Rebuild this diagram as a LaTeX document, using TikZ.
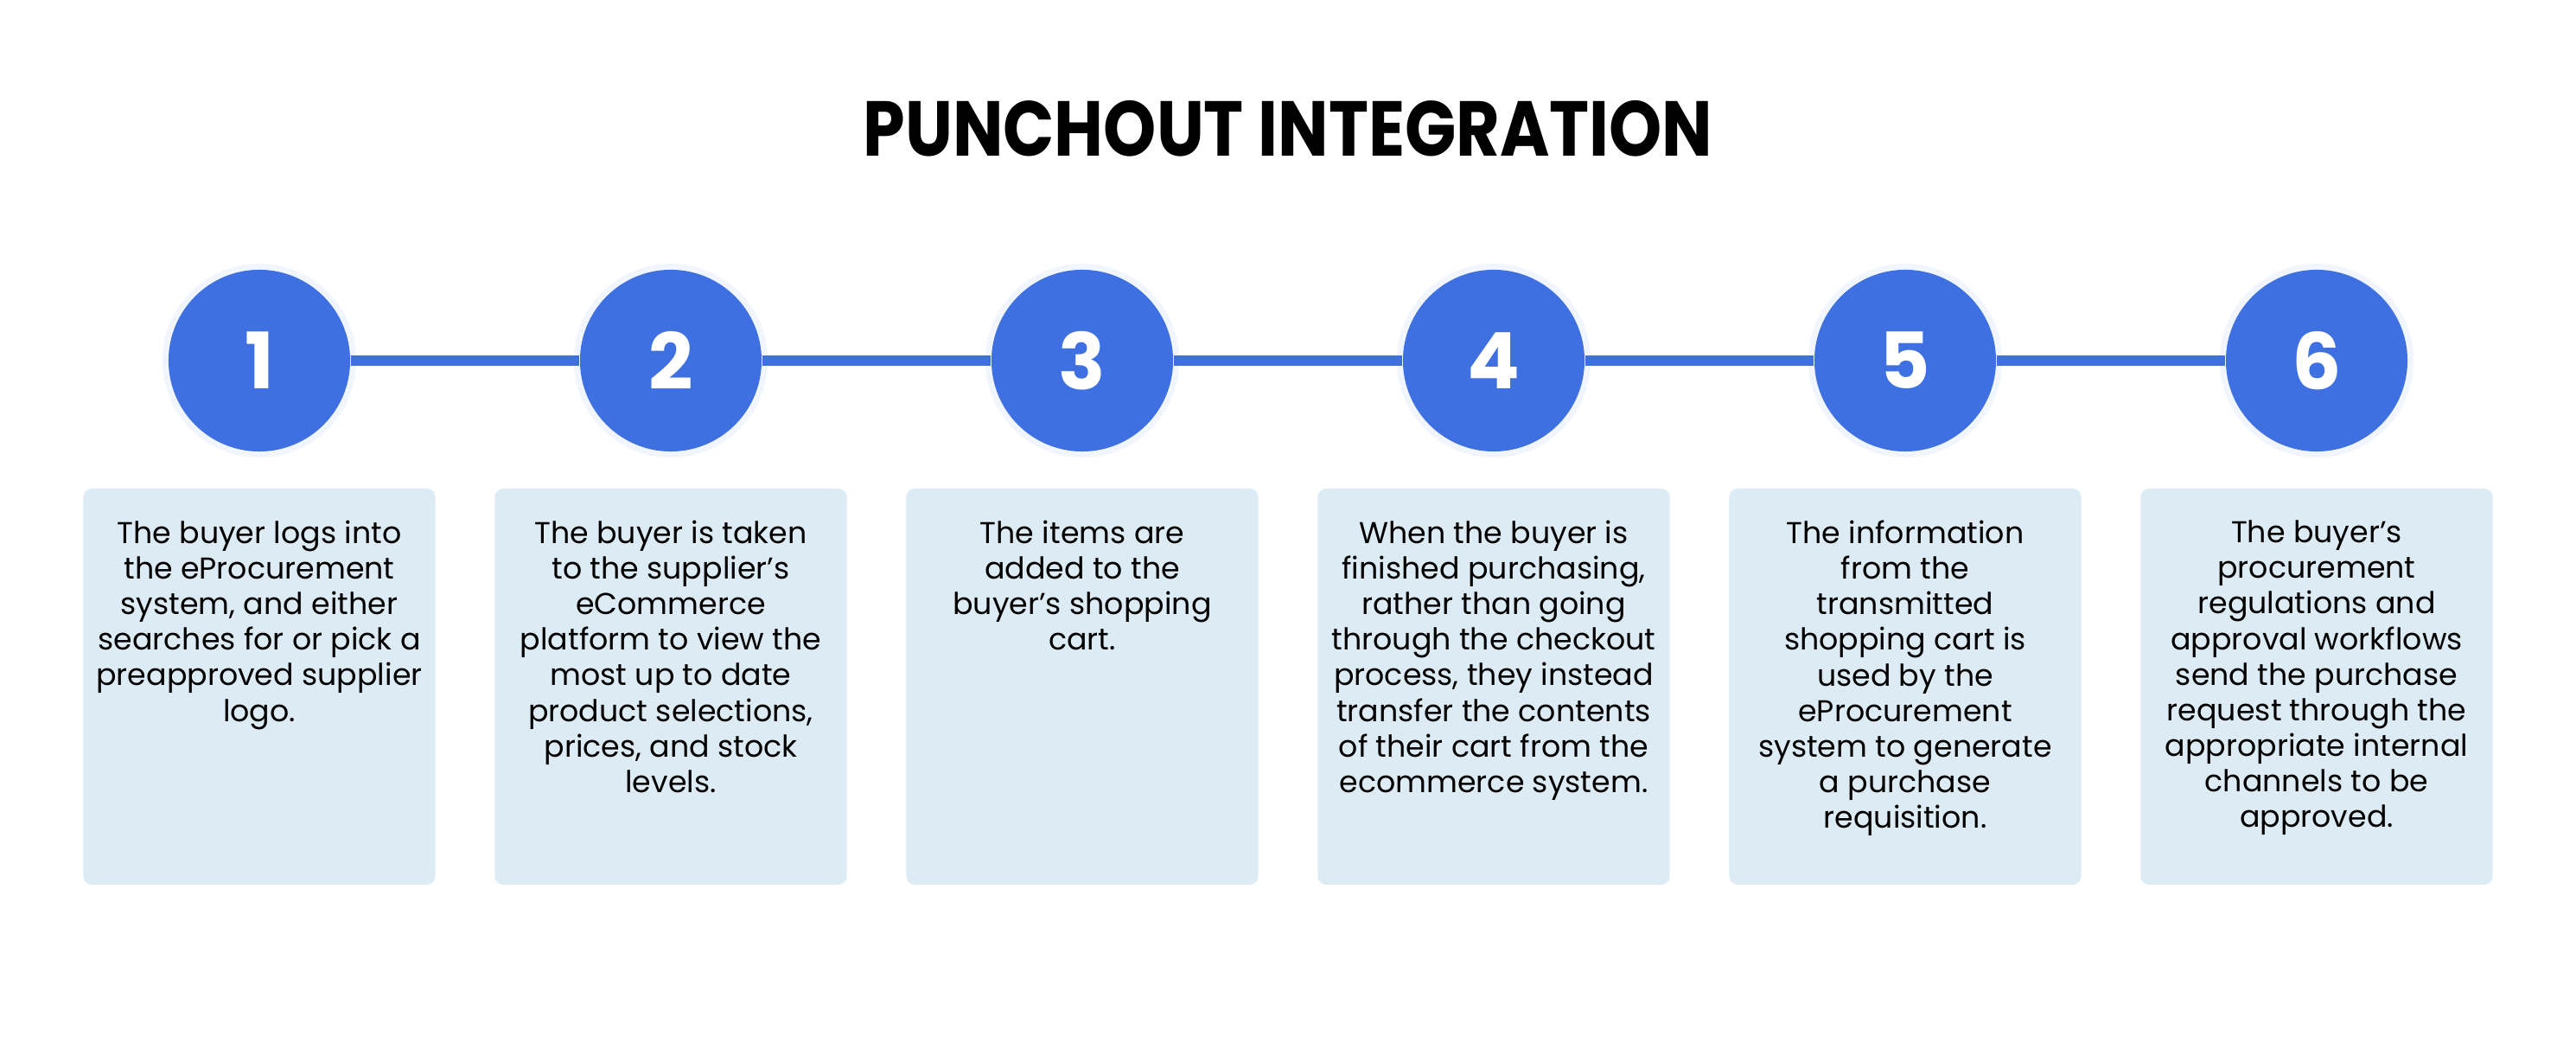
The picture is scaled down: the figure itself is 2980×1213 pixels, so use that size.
\documentclass[tikz,border=0pt]{standalone}
\usepackage{graphicx}
\usepackage{fontspec}
\setmainfont{Poppins}
\usetikzlibrary{positioning}

\definecolor{stepblue}{RGB}{62,112,226}
\definecolor{cardblue}{RGB}{221,235,244}

\begin{document}
\begin{tikzpicture}[x=0.01cm,y=-0.01cm,
    num/.style={circle, fill=stepblue, minimum size=2.1cm, inner sep=0pt,
      text=white, font=\fontsize{25.6}{30}\selectfont\bfseries,
      preaction={draw=stepblue!7, line width=0.14cm}},
    card/.style={rectangle, rounded corners=0.1cm, fill=cardblue,
      minimum width=4.07cm, minimum height=4.58cm, inner sep=0pt},
    desc/.style={align=center, inner sep=0pt,
      font=\fontsize{9.9}{11.7}\selectfont},
    link/.style={stepblue, line width=0.12cm}]

			\useasboundingbox[fill=white] (0,0) rectangle (2980,1213);

			\node[font=\fontsize{25.6}{30}\selectfont\bfseries] (title) at (1490,149) {\scalebox{0.865}[1]{PUNCHOUT INTEGRATION}};

			% steps
			\node[num] (n1) at (300,417) {1};
			\node[num] (n2) at (776,417) {2};
			\node[num] (n3) at (1252,417) {3};
			\node[num] (n4) at (1728,417) {4};
			\node[num] (n5) at (2204,417) {5};
			\node[num] (n6) at (2680,417) {6};

			\draw[link] (n1) -- (n2);
			\draw[link] (n2) -- (n3);
			\draw[link] (n3) -- (n4);
			\draw[link] (n4) -- (n5);
			\draw[link] (n5) -- (n6);

			% cards
			\node[card] (c1) at (300,794) {};
			\node[card] (c2) at (776,794) {};
			\node[card] (c3) at (1252,794) {};
			\node[card] (c4) at (1728,794) {};
			\node[card] (c5) at (2204,794) {};
			\node[card] (c6) at (2680,794) {};

			\node[desc, below=0.37cm of c1.north] (t1) {The buyer logs into\\the eProcurement\\system, and either\\searches for or pick a\\preapproved supplier\\logo.};
			\node[desc, below=0.37cm of c2.north] (t2) {The buyer is taken\\to the supplier’s\\eCommerce\\platform to view the\\most up to date\\product selections,\\prices, and stock\\levels.};
			\node[desc, below=0.37cm of c3.north] (t3) {The items are\\added to the\\buyer’s shopping\\cart.};
			\node[desc, below=0.37cm of c4.north] (t4) {When the buyer is\\finished purchasing,\\rather than going\\through the checkout\\process, they instead\\transfer the contents\\of their cart from the\\ecommerce system.};
			\node[desc, below=0.37cm of c5.north] (t5) {The information\\from the\\transmitted\\shopping cart is\\used by the\\eProcurement\\system to generate\\a purchase\\requisition.};
			\node[desc, below=0.37cm of c6.north] (t6) {The buyer’s\\procurement\\regulations and\\approval workflows\\send the purchase\\request through the\\appropriate internal\\channels to be\\approved.};
		\end{tikzpicture}
\end{document}
